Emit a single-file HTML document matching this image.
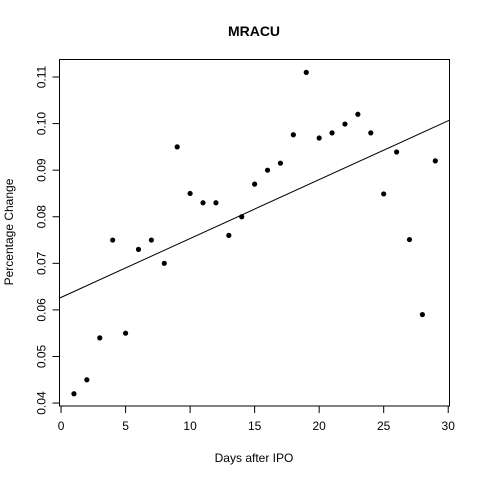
<!DOCTYPE html>
<html><head><meta charset="utf-8"><style>
html,body{margin:0;padding:0;background:#fff;}
svg text{font-family:"Liberation Sans",Arial,sans-serif;fill:#000;}
</style></head><body>
<svg id="chart" width="480" height="480" viewBox="0 0 480 480" xmlns="http://www.w3.org/2000/svg">
<rect width="480" height="480" fill="#fff"/>
<text x="254" y="36" font-size="14" font-weight="bold" text-anchor="middle">MRACU</text>
<text x="254" y="462" font-size="12" text-anchor="middle">Days after IPO</text>
<text transform="translate(13,232) rotate(-90)" font-size="12" text-anchor="middle">Percentage Change</text>
<rect x="59.5" y="59.5" width="390" height="346.5" fill="none" stroke="#000" stroke-width="1"/>
<g id="g"></g>
</svg>
<script>
const days=[1,2,3,4,5,6,7,8,9,10,11,12,13,14,15,16,17,18,19,20,21,22,23,24,25,26,27,28,29];
const pct=[0.042,0.045,0.054,0.075,0.055,0.073,0.075,0.070,0.095,0.085,0.083,0.083,0.076,0.080,0.087,0.090,0.0915,0.0976,0.111,0.0969,0.098,0.0999,0.102,0.098,0.0849,0.0939,0.0751,0.059,0.092];
const xTicks=[0,5,10,15,20,25,30];
const yTicks=[0.04,0.05,0.06,0.07,0.08,0.09,0.10,0.11];
const yTickLabels=["0.04","0.05","0.06","0.07","0.08","0.09","0.10","0.11"];
const NS="http://www.w3.org/2000/svg";
const g=document.getElementById('g');
const L=59.5,R=449.5,T=59.5,B=406;
const xMin=-0.12,xMax=30.1,yMin=0.03937,yMax=0.11376;
const sx=v=>L+(v-xMin)/(xMax-xMin)*(R-L);
const sy=v=>B-(v-yMin)/(yMax-yMin)*(B-T);
function mk(t,a){const e=document.createElementNS(NS,t);for(const k in a)e.setAttribute(k,a[k]);g.appendChild(e);return e;}
xTicks.forEach(t=>{
  const l=mk('line',{x1:sx(t),x2:sx(t),y1:B,y2:B+7,stroke:'#000'});
  
  
  const tx=mk('text',{x:sx(t),y:B+24,'font-size':12,'text-anchor':'middle'});
  tx.textContent=t;
  
  
});
yTicks.forEach((t,i)=>{
  const l=mk('line',{x1:L-7,x2:L,y1:sy(t),y2:sy(t),stroke:'#000'});
  
  
  const tx=mk('text',{transform:`translate(${L-14},${sy(t)}) rotate(-90)`,'font-size':12,'text-anchor':'middle'});
  tx.textContent=yTickLabels[i];
  
  
});
// least squares fit
const n=days.length;let mx=0,my=0;days.forEach((d,i)=>{mx+=d;my+=pct[i];});mx/=n;my/=n;
let sxy=0,sxx=0;days.forEach((d,i)=>{sxy+=(d-mx)*(pct[i]-my);sxx+=(d-mx)*(d-mx);});
const b=sxy/sxx,a=my-b*mx;
const fl=mk('line',{x1:L,y1:sy(a+b*xMin),x2:R,y2:sy(a+b*xMax),stroke:'#000','stroke-width':1});


days.forEach((d,i)=>{
  const c=mk('circle',{cx:sx(d),cy:sy(pct[i]),r:2.6,fill:'#000'});
  
  
});
</script>
</body></html>
